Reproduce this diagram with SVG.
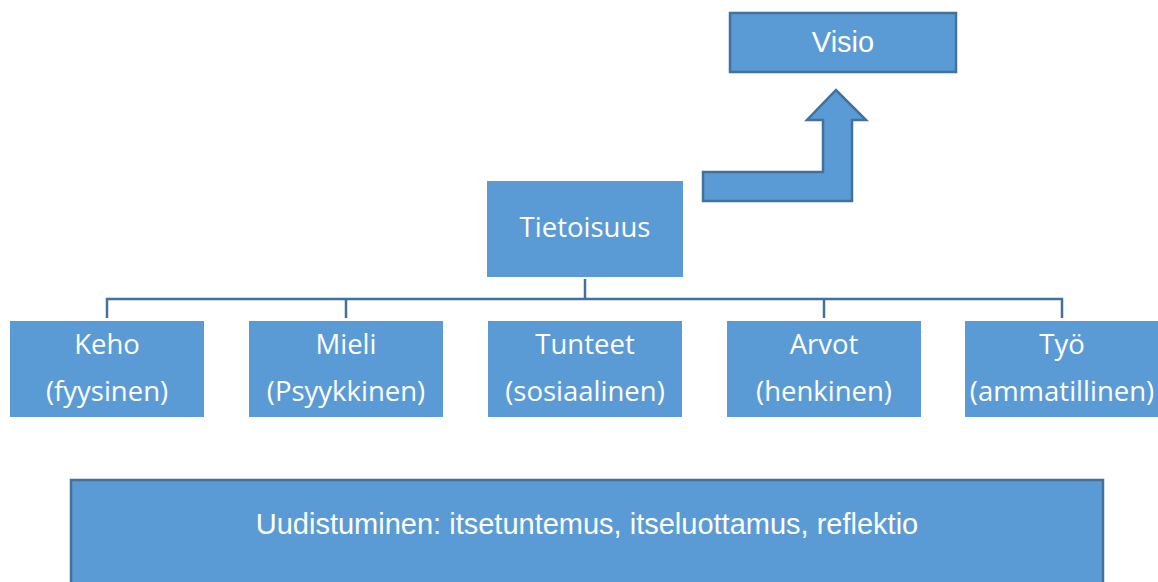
<svg xmlns="http://www.w3.org/2000/svg" width="1158" height="582" viewBox="0 0 1158 582">
<style>
.box{fill:#5B9BD5;}
.sbox{fill:#5B9BD5;stroke:#41719C;stroke-width:2.5;}
.cal{font-family:"Open Sans","Noto Sans",sans-serif;font-size:27.5px;fill:#fff;text-anchor:middle;}
.ar{font-family:"Liberation Sans",Arial,sans-serif;font-size:29px;fill:#fff;text-anchor:middle;}
.con{fill:none;stroke:#41719C;stroke-width:2.5;}
</style>
<rect width="1158" height="582" fill="#fff"/>
<g id="connectors">
<path class="con" d="M585 279 V299 M107 318 V299 H1062 V318 M346 299 V318 M824 299 V318"/>
<path id="bent-arrow" class="sbox" d="M703 172 H823 V120 H807 L836 90 L866 120 H852 V201 H703 Z"/>
</g>
<g id="visio"><rect class="sbox" x="730" y="13" width="226" height="59"/><text class="ar" x="843" y="52">Visio</text></g>
<g id="tietoisuus"><rect class="box" x="487" y="181" width="196" height="96"/><text class="cal" x="585" y="237">Tietoisuus</text></g>
<g id="keho"><rect class="box" x="10" y="321" width="194" height="96"/><text class="cal" x="107" y="354">Keho</text><text class="cal" x="107" y="401">(fyysinen)</text></g>
<g id="mieli"><rect class="box" x="249" y="321" width="194" height="96"/><text class="cal" x="346" y="354">Mieli</text><text class="cal" x="346" y="401">(Psyykkinen)</text></g>
<g id="tunteet"><rect class="box" x="488" y="321" width="194" height="96"/><text class="cal" x="585" y="354">Tunteet</text><text class="cal" x="585" y="401">(sosiaalinen)</text></g>
<g id="arvot"><rect class="box" x="727" y="321" width="194" height="96"/><text class="cal" x="824" y="354">Arvot</text><text class="cal" x="824" y="401">(henkinen)</text></g>
<g id="tyo"><rect class="box" x="965" y="321" width="194" height="96"/><text class="cal" x="1062" y="354">Työ</text><text class="cal" x="1062" y="401">(ammatillinen)</text></g>
<g id="uudistuminen"><rect class="sbox" x="71" y="480" width="1032" height="110"/><text class="ar" x="587" y="534">Uudistuminen: itsetuntemus, itseluottamus, reflektio</text></g>
</svg>
